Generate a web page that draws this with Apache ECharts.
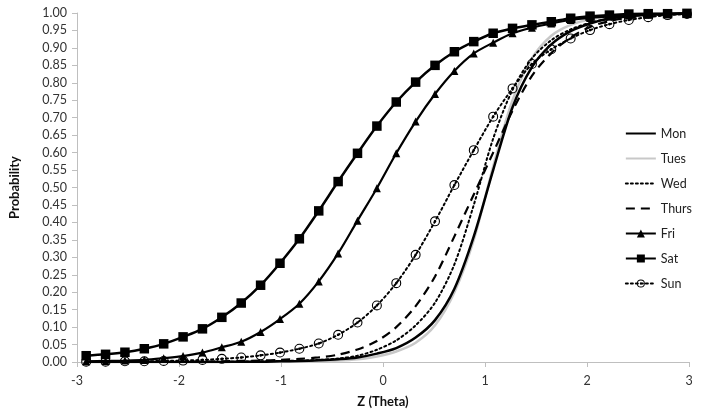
<!DOCTYPE html>
<html>
<head>
<meta charset="utf-8">
<script src="https://cdn.jsdelivr.net/npm/echarts@6/dist/echarts.min.js"></script>
<style>
html,body{margin:0;padding:0;background:#fff;}
#chart{width:701px;height:418px;}
</style>
</head>
<body>
<div id="chart"></div>
<script>
// Z (Theta) values of the plotted points
var zValues = [-2.91,-2.72,-2.53,-2.34,-2.15,-1.96,-1.77,-1.58,-1.39,-1.20,-1.01,-0.82,-0.63,-0.44,-0.25,-0.06,0.13,0.32,0.51,0.70,0.89,1.08,1.27,1.46,1.65,1.84,2.03,2.22,2.41,2.60,2.79,2.98];

var seriesNames = ['Mon','Tues','Wed','Thurs','Fri','Sat','Sun'];

var mon   = [0,0,0,0,0,0,0,0,0.001,0.001,0.002,0.003,0.005,0.008,0.013,0.024,0.04,0.07,0.12,0.21,0.36,0.55,0.73,0.845,0.91,0.948,0.97,0.984,0.991,0.995,0.997,0.998];
var tues  = [0,0,0,0,0,0,0,0,0,0,0,0.001,0.002,0.004,0.008,0.016,0.03,0.055,0.105,0.2,0.35,0.56,0.75,0.87,0.935,0.966,0.982,0.991,0.995,0.997,0.998,0.999];
var wed   = [0,0,0,0,0,0,0.001,0.001,0.001,0.002,0.003,0.004,0.006,0.01,0.018,0.035,0.062,0.105,0.17,0.28,0.45,0.64,0.78,0.87,0.922,0.953,0.972,0.984,0.991,0.995,0.997,0.998];
var thurs = [0,0,0,0,0,0.001,0.001,0.002,0.003,0.004,0.006,0.009,0.013,0.021,0.036,0.06,0.1,0.16,0.245,0.36,0.48,0.6,0.72,0.82,0.885,0.93,0.96,0.977,0.987,0.993,0.996,0.998];
var fri   = [0.002,0.003,0.004,0.006,0.011,0.017,0.027,0.042,0.058,0.086,0.123,0.167,0.231,0.311,0.405,0.498,0.598,0.689,0.768,0.834,0.884,0.915,0.942,0.958,0.97,0.98,0.986,0.99,0.993,0.995,0.997,0.998];
var sat   = [0.018,0.022,0.028,0.038,0.052,0.072,0.095,0.128,0.169,0.22,0.283,0.353,0.433,0.517,0.598,0.676,0.745,0.802,0.85,0.889,0.918,0.942,0.956,0.966,0.975,0.985,0.991,0.994,0.997,0.998,0.998,0.999];
var sun   = [0.001,0.001,0.002,0.002,0.003,0.004,0.006,0.009,0.013,0.019,0.027,0.038,0.053,0.078,0.113,0.162,0.226,0.307,0.403,0.507,0.607,0.703,0.784,0.854,0.896,0.927,0.951,0.968,0.98,0.988,0.994,0.997];

var xTicks = [-3,-2,-1,0,1,2,3];

function pairs(vals){
  return zValues.map(function(z,i){ return [z, vals[i]]; });
}

var ringDot = 'path://M-5 0A5 5 0 1 1 5 0A5 5 0 1 1 -5 0ZM-3.9 0A3.9 3.9 0 1 0 3.9 0A3.9 3.9 0 1 0 -3.9 0ZM-1.3 0A1.3 1.3 0 1 1 1.3 0A1.3 1.3 0 1 1 -1.3 0Z';

var noMarker = {opacity:0};
var legendData = seriesNames.map(function(n){
  if (n === 'Mon' || n === 'Tues' || n === 'Wed' || n === 'Thurs') {
    return {name:n, itemStyle:noMarker};
  }
  return {name:n};
});

var FONT = 'Lato, "Liberation Sans", sans-serif';
var chart = echarts.init(document.getElementById('chart'), null, {renderer:'canvas'});
chart.setOption({
  animation:false,
  backgroundColor:'#fff',
  textStyle:{fontFamily:FONT},
  grid:{left:73, right:12, top:13, bottom:56},
  legend:{
    orient:'vertical', right:4, top:122,
    itemWidth:30, itemHeight:10, itemGap:12,
    data:legendData,
    textStyle:{fontFamily:FONT, fontSize:12.5, color:'#222'}
  },
  xAxis:{
    type:'value', min:-3, max:3, interval:1,
    name:'Z (Theta)', nameLocation:'middle', nameGap:33,
    nameTextStyle:{fontFamily:FONT, fontSize:13, fontWeight:'bold', color:'#111'},
    axisLine:{onZero:false, lineStyle:{color:'#bfbfbf', width:1}},
    axisTick:{show:true, length:5, lineStyle:{color:'#bfbfbf'}},
    axisLabel:{fontFamily:FONT, fontSize:12.5, color:'#333', margin:12,
      formatter:function(v){ return xTicks.indexOf(v) >= 0 ? String(v) : ''; }},
    splitLine:{show:false}
  },
  yAxis:{
    type:'value', min:0, max:1, interval:0.05,
    name:'Probability', nameLocation:'middle', nameGap:56,
    nameTextStyle:{fontFamily:FONT, fontSize:13, fontWeight:'bold', color:'#111'},
    axisLine:{show:true, onZero:false, lineStyle:{color:'#bfbfbf', width:1}},
    axisTick:{show:true, length:5, lineStyle:{color:'#bfbfbf'}},
    axisLabel:{fontFamily:FONT, fontSize:12.5, color:'#333', margin:10,
      formatter:function(v){ return v.toFixed(2); }},
    splitLine:{show:false}
  },
  series:[
    {name:'Mon', type:'line', data:pairs(mon), smooth:0.3, symbol:'none', color:'#000',
      lineStyle:{color:'#000', width:2.5}, z:3},
    {name:'Tues', type:'line', data:pairs(tues), smooth:0.3, symbol:'none', color:'#c8c8c8',
      lineStyle:{color:'#c8c8c8', width:2.5}, z:2},
    {name:'Wed', type:'line', data:pairs(wed), smooth:0.3, symbol:'none', color:'#000',
      lineStyle:{color:'#000', width:2, type:[2,3], cap:'round'}, z:3},
    {name:'Thurs', type:'line', data:pairs(thurs), smooth:0.3, symbol:'none', color:'#000',
      lineStyle:{color:'#000', width:2.2, type:[9,6]}, z:3},
    {name:'Fri', type:'line', data:pairs(fri), smooth:0.3, symbol:'triangle', symbolSize:8, color:'#000',
      lineStyle:{color:'#000', width:2.2}, itemStyle:{color:'#000'}, z:4},
    {name:'Sat', type:'line', data:pairs(sat), smooth:0.3, symbol:'rect', symbolSize:9.5, color:'#000',
      lineStyle:{color:'#000', width:2.5}, itemStyle:{color:'#000'}, z:4},
    {name:'Sun', type:'line', data:pairs(sun), smooth:0.3, symbol:ringDot, symbolSize:10, color:'#000',
      lineStyle:{color:'#000', width:2, type:[2,3], cap:'round'}, itemStyle:{color:'#000'}, z:4}
  ]
});
</script>
</body>
</html>
